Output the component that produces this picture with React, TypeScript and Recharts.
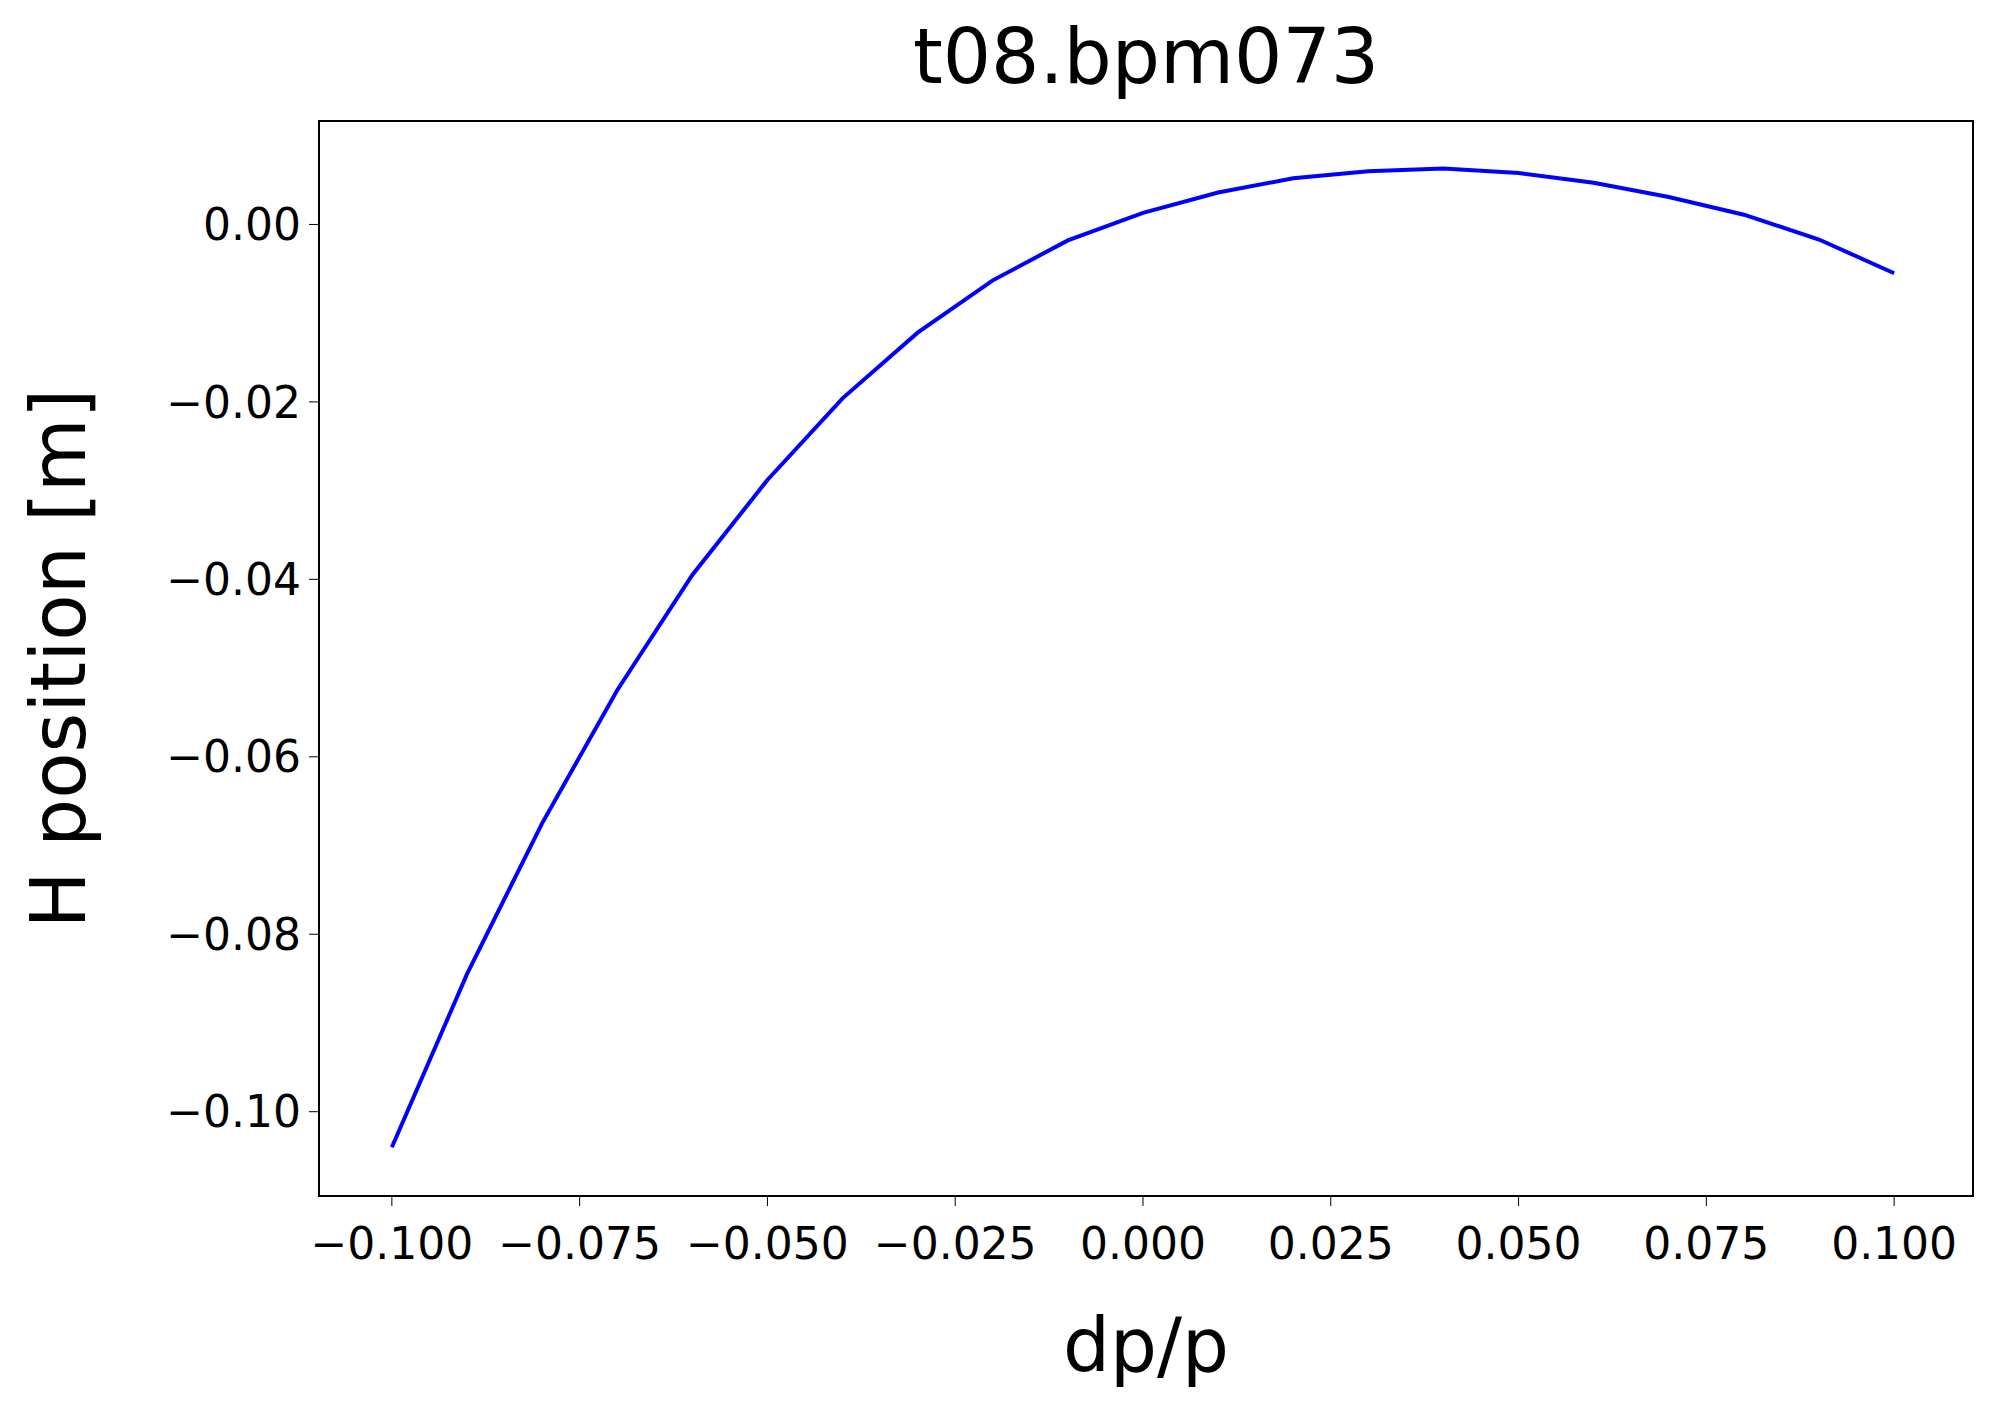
import React from 'react';
import { LineChart, Line, XAxis, YAxis, ReferenceArea } from 'recharts';

const dpp = [-0.1, -0.09, -0.08, -0.07, -0.06, -0.05, -0.04, -0.03, -0.02, -0.01, 0, 0.01, 0.02, 0.03, 0.04, 0.05, 0.06, 0.07, 0.08, 0.09, 0.1];
const hpos = [-0.104, -0.0845, -0.0675, -0.0525, -0.0395, -0.0288, -0.0196, -0.0122, -0.0063, -0.0018, 0.0013, 0.0036, 0.0052, 0.006, 0.0063, 0.0058, 0.0047, 0.0031, 0.0011, -0.0017, -0.0055];
const xTicks = [-0.1, -0.075, -0.05, -0.025, 0, 0.025, 0.05, 0.075, 0.1];
const yTicks = [-0.1, -0.08, -0.06, -0.04, -0.02, 0];

const data = dpp.map((x, i) => ({ x, y: hpos[i] }));
const XMIN = -0.1097, XMAX = 0.1105, YMIN = -0.1095, YMAX = 0.01166;
const font = 'DejaVu Sans';
const fmt = (v: number, d: number) => (v < 0 ? '\u2212' : '') + Math.abs(v).toFixed(d);

export default function App() {
  return (
    <div style={{ position: 'absolute', left: 0, top: 0, width: 2000, height: 1407, background: '#fff' }}>
      <div style={{ position: 'absolute', left: 0, width: 2292, top: 12, textAlign: 'center', fontFamily: font, fontSize: 76, color: '#000', zIndex: 1 }}>t08.bpm073</div>
      <LineChart width={2000} height={1407} data={data} margin={{ top: 121, right: 27, bottom: 0, left: 0 }}>
        <XAxis type="number" dataKey="x" domain={[XMIN, XMAX]} ticks={xTicks} allowDataOverflow
          tickFormatter={(v) => fmt(v, 3)} height={211} tickSize={10} tickMargin={22}
          stroke="#000" tick={{ fill: '#000', fontFamily: font, fontSize: 44 }}
          label={{ value: 'dp/p', position: 'insideBottom', offset: 36, fill: '#000', fontFamily: font, fontSize: 74 }} />
        <YAxis type="number" domain={[YMIN, YMAX]} ticks={yTicks} allowDataOverflow
          tickFormatter={(v) => fmt(v, 2)} width={319} tickSize={10} tickMargin={8}
          stroke="#000" tick={{ fill: '#000', fontFamily: font, fontSize: 44 }}
          label={{ value: 'H position [m]', angle: -90, position: 'insideLeft', offset: 58, fill: '#000', fontFamily: font, fontSize: 76, style: { textAnchor: 'middle' } }} />
        <ReferenceArea x1={XMIN} x2={XMAX} y1={YMIN} y2={YMAX} fill="none" stroke="#000" strokeWidth={2} fillOpacity={0} />
        <Line dataKey="y" stroke="#0000ff" strokeWidth={4} dot={false} isAnimationActive={false} type="linear" />
      </LineChart>
    </div>
  );
}
